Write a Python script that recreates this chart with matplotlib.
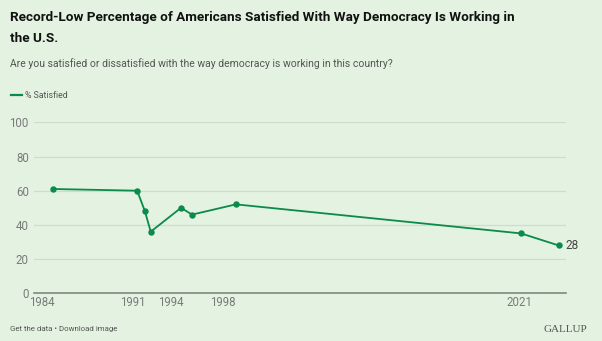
import matplotlib.pyplot as plt

# Gallup: % satisfied with the way democracy is working
years = [1984.85, 1991.35, 1991.95, 1992.4, 1994.75, 1995.6, 1999.0, 2021.1, 2024.0]
satisfied = [61, 60, 48, 36, 50, 46, 52, 35, 28]
x_ticks = [1984, 1991, 1994, 1998, 2021]
y_ticks = [0, 20, 40, 60, 80, 100]

bg = '#e3f2e1'
green = '#0b8a4a'

plt.rcParams['font.family'] = ['Roboto', 'DejaVu Sans']

fig = plt.figure(figsize=(6.02, 3.41), dpi=100, facecolor=bg)
ax = fig.add_axes([0.057, 0.14, 0.883, 0.5013], facecolor=bg)

ax.plot(years, satisfied, color=green, lw=1.3, marker='o', ms=3.6)
ax.annotate(str(satisfied[-1]), (years[-1], satisfied[-1]), xytext=(5, 0),
            textcoords='offset points', va='center', ha='left', fontsize=8.5, color='#444444')

ax.set_xlim(1983.38, 2024.57)
ax.set_ylim(0, 100)
ax.set_yticks(y_ticks)
ax.set_xticks(x_ticks)
ax.set_xticklabels([str(y) for y in x_ticks])
ax.grid(axis='y', color='#cfdccd', lw=0.9)
ax.set_axisbelow(True)
for s in ['top', 'right', 'left']:
    ax.spines[s].set_visible(False)
ax.spines['bottom'].set_color('#7f8a7f')
ax.spines['bottom'].set_linewidth(1.2)
ax.tick_params(length=0, labelsize=8.3, colors='#7a7a7a', pad=2)
ax.tick_params(axis='y', pad=4)

fig.text(0.017, 0.948, 'Record-Low Percentage of Americans Satisfied With Way Democracy Is Working in',
         fontsize=9.7, fontweight='bold', color='#111111', va='center')
fig.text(0.017, 0.888, 'the U.S.', fontsize=9.7, fontweight='bold', color='#111111', va='center')
fig.text(0.017, 0.815, 'Are you satisfied or dissatisfied with the way democracy is working in this country?',
         fontsize=7.5, color='#555555', va='center')

# legend
fig.add_artist(plt.Line2D([0.018, 0.036], [0.721, 0.721], color=green, lw=1.6))
fig.text(0.041, 0.721, '% Satisfied', fontsize=6.3, color='#555555', va='center')

fig.text(0.017, 0.035, 'Get the data \u2022 Download image', fontsize=5.7, color='#555555', va='center')
fig.text(0.975, 0.035, 'GALLUP', fontsize=8, family='Liberation Serif', color='#555555',
         va='center', ha='right')

plt.savefig('out.png', dpi=100, facecolor=bg)
